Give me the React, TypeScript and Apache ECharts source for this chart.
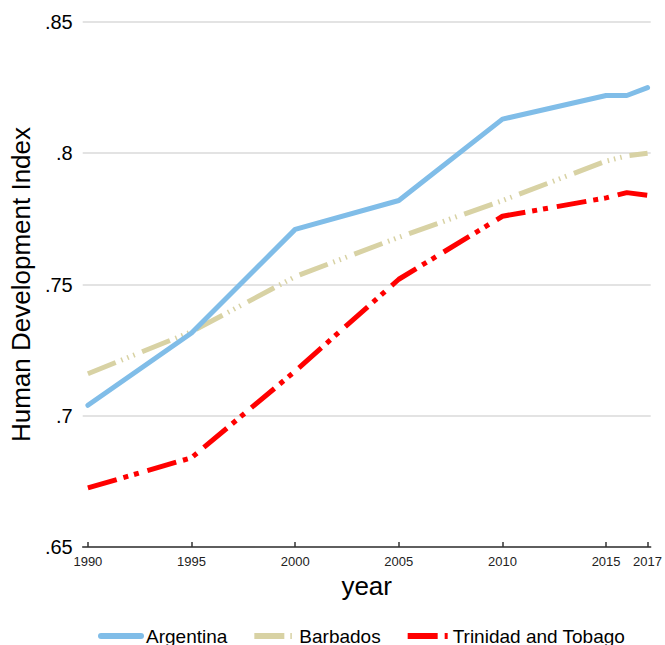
import React, { useEffect, useRef } from "react";
import * as echarts from "echarts";

const years = [1990, 1995, 2000, 2005, 2010, 2015, 2016, 2017];
const argentina = [0.704, 0.7315, 0.771, 0.782, 0.813, 0.822, 0.822, 0.825];
const barbados = [0.716, 0.732, 0.753, 0.768, 0.782, 0.797, 0.799, 0.8];
const trinidad = [0.6725, 0.684, 0.717, 0.752, 0.776, 0.783, 0.785, 0.784];
const xTicks = [1990, 1995, 2000, 2005, 2010, 2015, 2017];
const seriesNames = ["Argentina", "Barbados", "Trinidad and Tobago"];

const FONT = "'Liberation Sans', Arial, sans-serif";

function fmtY(v: number): string {
  let s = v.toFixed(2);
  s = s.replace(/0+$/, "").replace(/\.$/, "");
  if (s.startsWith("0.")) s = s.slice(1);
  return s;
}

export default function App() {
  const ref = useRef<HTMLDivElement>(null);
  useEffect(() => {
    document.body.style.margin = "0";
    if (!ref.current) return;
    const chart = echarts.init(ref.current, null, { renderer: "svg" });
    const pairs = (vals: number[]) => years.map((y, i) => [y, vals[i]]);
    chart.setOption({
      animation: false,
      backgroundColor: "#ffffff",
      textStyle: { fontFamily: FONT },
      grid: { left: 80, right: 14, top: 22, bottom: 98, containLabel: false },
      legend: {
        data: seriesNames,
        left: 98,
        top: 625,
        itemWidth: 40,
        itemHeight: 10,
        itemGap: 24,
        padding: 0,
        itemStyle: { opacity: 0 },
        lineStyle: { width: 6 },
        textStyle: { fontSize: 19, color: "#000", fontFamily: FONT, lineHeight: 22 },
      },
      xAxis: {
        type: "value",
        min: 1989.75,
        max: 2017.15,
        name: "year",
        nameLocation: "middle",
        nameGap: 23,
        nameTextStyle: { fontSize: 26, color: "#000", fontFamily: FONT },
        axisLine: { show: true, lineStyle: { color: "#333", width: 1.5 } },
        axisTick: {
          show: true,
          inside: true,
          length: 5,
          customValues: xTicks,
          lineStyle: { color: "#333", width: 1.5 },
        },
        axisLabel: {
          customValues: xTicks,
          formatter: (v: number) => String(Math.round(v)),
          fontSize: 13,
          color: "#222",
          margin: 8,
          fontFamily: FONT,
        },
        splitLine: { show: false },
      },
      yAxis: {
        type: "value",
        min: 0.65,
        max: 0.85,
        interval: 0.05,
        name: "Human Development Index",
        nameLocation: "middle",
        nameGap: 42,
        nameTextStyle: { fontSize: 26, color: "#000", fontFamily: FONT },
        axisLine: { show: false },
        axisTick: { show: false },
        axisLabel: {
          formatter: (v: number) => fmtY(v),
          fontSize: 20,
          color: "#000",
          margin: 10,
          fontFamily: FONT,
        },
        splitLine: { show: true, lineStyle: { color: "#e3e3e3", width: 2 } },
      },
      series: [
        {
          name: seriesNames[0],
          type: "line",
          data: pairs(argentina),
          symbol: "none",
          color: "#80bde8",
          lineStyle: { width: 5, color: "#80bde8", cap: "round", join: "round" },
          z: 3,
        },
        {
          name: seriesNames[1],
          type: "line",
          data: pairs(barbados),
          symbol: "none",
          color: "#d8d2a4",
          lineStyle: {
            width: 5,
            color: "#d8d2a4",
            type: [30, 6, 1.5, 5, 1.5, 5, 1.5, 8],
            cap: "butt",
          },
          z: 2,
        },
        {
          name: seriesNames[2],
          type: "line",
          data: pairs(trinidad),
          symbol: "none",
          color: "#ff0000",
          lineStyle: {
            width: 5,
            color: "#ff0000",
            type: [30, 7, 5, 6, 5, 9],
            cap: "butt",
          },
          z: 4,
        },
      ],
    });
    return () => chart.dispose();
  }, []);
  return <div ref={ref} style={{ width: 665, height: 645 }} />;
}
